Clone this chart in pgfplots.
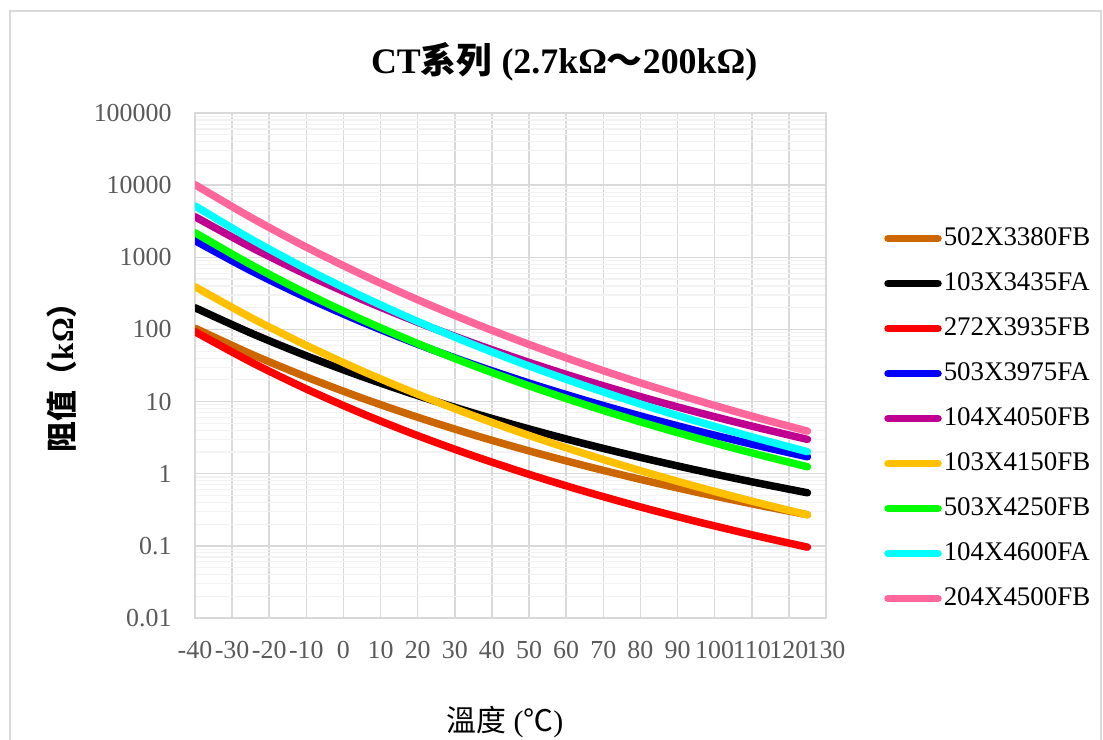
\documentclass[border=0pt]{standalone}
\usepackage{fontspec}
\setmainfont{Liberation Serif}
\newfontfamily\cjk{Noto Sans CJK TC}
\usepackage{pgfplots}
\pgfplotsset{compat=1.18}
\definecolor{cbrown}{RGB}{204,102,0}
\definecolor{cred}{RGB}{255,0,0}
\definecolor{cblue}{RGB}{0,0,255}
\definecolor{cmagenta}{RGB}{192,0,144}
\definecolor{corange}{RGB}{255,192,0}
\definecolor{cgreen}{RGB}{0,255,0}
\definecolor{ccyan}{RGB}{0,255,255}
\definecolor{cpink}{RGB}{255,102,153}
\definecolor{gridmajor}{RGB}{217,217,217}
\definecolor{gridminor}{RGB}{242,242,242}
\definecolor{ticktext}{RGB}{89,89,89}

\begin{document}
\begin{tikzpicture}
\useasboundingbox (0bp,0bp) rectangle (1103bp,740bp);
\draw[gridmajor, line width=1.2bp] (10bp,0bp) -- (10bp,729bp) -- (1101bp,729bp) -- (1101bp,0bp);
\begin{axis}[
  at={(195bp,122bp)}, anchor=south west,
  scale only axis, width=631bp, height=505bp,
  ymode=log,
  xmin=-40, xmax=130, ymin=0.01, ymax=100000,
  xtick={-40,-30,...,130},
  xticklabels={-40,-30,-20,-10,0,10,20,30,40,50,60,70,80,90,100,110,120,130},
  ytick={0.01,0.1,1,10,100,1000,10000,100000},
  yticklabels={0.01,0.1,1,10,100,1000,10000,100000},
  minor ytick={0.02,0.03,0.04,0.05,0.06,0.07,0.08,0.09,
    0.2,0.3,0.4,0.5,0.6,0.7,0.8,0.9,2,3,4,5,6,7,8,9,
    20,30,40,50,60,70,80,90,200,300,400,500,600,700,800,900,
    2000,3000,4000,5000,6000,7000,8000,9000,
    20000,30000,40000,50000,60000,70000,80000,90000},
  grid=both,
  major grid style={draw=gridmajor, line width=1.5bp},
  minor grid style={draw=gridminor, line width=1.2bp},
  axis line style={draw=gridmajor, line width=1.5bp},
  major tick length=0pt, minor tick length=0pt,
  tick label style={font=\fontsize{26}{30}\selectfont, text=ticktext},
  xticklabel style={yshift=-20bp},
  yticklabel style={xshift=-20bp},
  title={\textbf{CT{\cjk 系列} (2.7kΩ{\cjk ～}200kΩ)}},
  title style={at={(axis description cs:0.585,1.09)}, anchor=center,
    font=\fontsize{36}{40}\selectfont},
  xlabel={{\cjk 溫度} ({\cjk ℃})},
  xlabel style={at={(axis description cs:0.491,-0.206)}, anchor=center,
    font=\fontsize{30}{34}\selectfont},
  ylabel={\textbf{{\cjk 阻值（}kΩ{\cjk ）}}},
  ylabel style={at={(axis description cs:-0.211,0.491)}, anchor=center,
    font=\fontsize{31}{35}\selectfont},
  every axis plot/.append style={line width=7.5bp, line cap=round, line join=round, smooth},
  legend image code/.code={\draw[#1, line width=7.5bp, line cap=round] (0bp,0bp) -- (50bp,0bp);},
  legend style={at={(axis description cs:1.092,0.395)}, anchor=west, draw=none, fill=none,
    font=\fontsize{27}{30}\selectfont, row sep=18bp, inner sep=0pt,
    nodes={inner sep=2bp, text height=18bp, text depth=5bp}},
  legend cell align=left,
]
\addplot[cbrown] coordinates {(-40,104.0) (-25,45.8) (-10,21.9) (5,11.17) (20,6.06) (35,3.46) (50,2.07) (65,1.292) (80,0.835) (95,0.557) (110,0.383) (125,0.270)};
\addlegendentry{502X3380FB}
\addplot[black] coordinates {(-40,200.0) (-25,89.4) (-10,43.1) (5,22.2) (20,12.10) (35,6.94) (50,4.17) (65,2.60) (80,1.684) (95,1.125) (110,0.773) (125,0.544)};
\addlegendentry{103X3435FA}
\addplot[cred] coordinates {(-40,93.0) (-25,35.5) (-10,14.93) (5,6.84) (20,3.37) (35,1.768) (50,0.980) (65,0.570) (80,0.346) (95,0.2185) (110,0.1425) (125,0.0959)};
\addlegendentry{272X3935FB}
\addplot[cblue] coordinates {(-40,1701) (-25,654) (-10,277) (5,126.9) (20,62.4) (35,32.7) (50,18.05) (65,10.46) (80,6.32) (95,3.96) (110,2.57) (125,1.716)};
\addlegendentry{503X3975FA}
\addplot[cmagenta] coordinates {(-40,3649) (-25,1389) (-10,578) (5,260.6) (20,125.7) (35,64.5) (50,34.9) (65,19.77) (80,11.70) (95,7.19) (110,4.57) (125,2.99)};
\addlegendentry{104X4050FB}
\addplot[corange] coordinates {(-40,390) (-25,146.5) (-10,60.1) (5,26.6) (20,12.64) (35,6.37) (50,3.39) (65,1.892) (80,1.101) (95,0.666) (110,0.417) (125,0.269)};
\addlegendentry{103X4150FB}
\addplot[cgreen] coordinates {(-40,2191) (-25,794) (-10,316) (5,136.8) (20,63.6) (35,31.5) (50,16.51) (65,9.09) (80,5.23) (95,3.14) (110,1.947) (125,1.248)};
\addlegendentry{503X4250FB}
\addplot[ccyan] coordinates {(-40,5152) (-25,1800) (-10,690) (5,287.5) (20,128.8) (35,61.5) (50,31.1) (65,16.58) (80,9.24) (95,5.37) (110,3.24) (125,2.02)};
\addlegendentry{104X4600FA}
\addplot[cpink] coordinates {(-40,10150) (-25,3582) (-10,1381) (5,576) (20,257.8) (35,122.8) (50,61.9) (65,32.8) (80,18.18) (95,10.50) (110,6.29) (125,3.89)};
\addlegendentry{204X4500FB}
\end{axis}
\end{tikzpicture}
\end{document}
